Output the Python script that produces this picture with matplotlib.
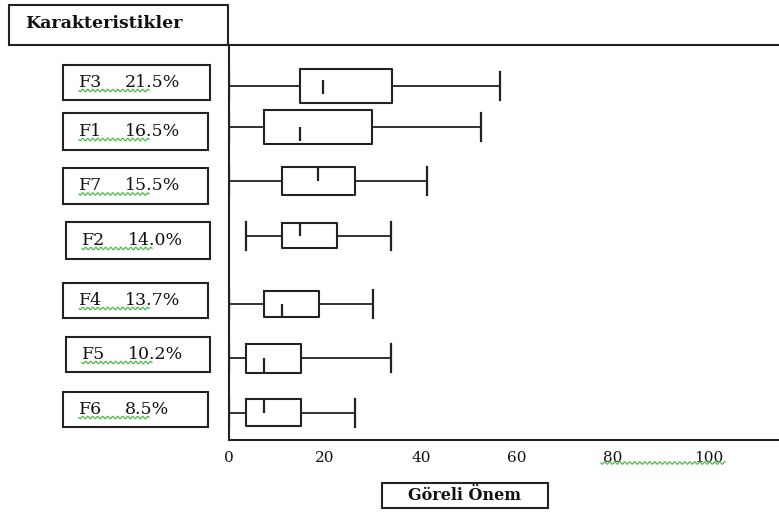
import numpy as np
import matplotlib
matplotlib.use("Agg")
import matplotlib.pyplot as plt
from matplotlib.patches import Rectangle
from matplotlib.lines import Line2D

# ---- data ----
factors = ["F3", "F1", "F7", "F2", "F4", "F5", "F6"]
shares = ["21.5%", "16.5%", "15.5%", "14.0%", "13.7%", "10.2%", "8.5%"]
whislo = [0.0, 0.0, 0.0, 3.5, 0.0, 0.0, 0.0]
q1 = [14.8, 7.2, 11.0, 11.0, 7.2, 3.5, 3.5]
med = [19.5, 14.8, 18.6, 14.8, 11.0, 7.2, 7.2]
q3 = [33.9, 29.7, 26.2, 22.4, 18.7, 14.9, 14.9]
whishi = [56.5, 52.6, 41.3, 33.8, 30.0, 33.8, 26.2]
xticks = [0, 20, 40, 60, 80, 100]

# ---- layout ----
rows = [0, 0.75, 1.75, 2.75, 4, 5, 6]
box_w = [0.62, 0.62, 0.52, 0.45, 0.48, 0.53, 0.5]
med_lo = [-0.10, 0.0, -0.26, -0.25, 0.0, 0.0, -0.26]
med_hi = [0.15, 0.26, 0.0, 0.0, 0.26, 0.26, 0.0]
# label boxes (pixel: x0, y0top, x1, y1bottom)
lab_boxes = [(63, 65, 210, 100), (63, 113, 208, 150), (63, 168, 208, 204),
             (66, 222, 210, 259), (63, 283, 208, 318), (66, 337, 210, 372),
             (63, 392, 208, 427)]

W, H = 779, 512
fig = plt.figure(figsize=(W / 100, H / 100), dpi=100)
serif = ["DejaVu Serif", "Liberation Serif"]


def fx(x):
    return x / W


def fy(y):
    return 1 - y / H


ax_l, ax_r, ax_t, ax_b = 229, 779, 45, 440
ax = fig.add_axes([fx(ax_l), fy(ax_b), (ax_r - ax_l) / W, (ax_b - ax_t) / H])

stats = []
for i in range(len(factors)):
    stats.append(dict(whislo=whislo[i], q1=q1[i], med=med[i], q3=q3[i],
                      whishi=whishi[i], fliers=[], label=factors[i]))

lw = 1.5
ax.bxp(stats, positions=rows, widths=box_w, vert=False, capwidths=0.52,
       showfliers=False,
       boxprops=dict(color="#222222", linewidth=lw),
       whiskerprops=dict(color="#222222", linewidth=1.3),
       capprops=dict(color="#222222", linewidth=1.6),
       medianprops=dict(linewidth=0, color="none"))

for i in range(len(factors)):
    ax.vlines(med[i], rows[i] + med_lo[i], rows[i] + med_hi[i],
              color="#222222", linewidth=1.6)

px_per_unit = 4.8
ax.set_xlim(0, (ax_r - ax_l) / px_per_unit)
ax.set_ylim(6.5, -0.75)
ax.set_yticks([])
ax.set_xticks(xticks)
ax.set_xticklabels([str(t) for t in xticks], fontfamily=serif, fontsize=11,
                   color="#111111")
ax.tick_params(axis="x", length=0, pad=8)
for s in ["top", "left", "bottom"]:
    ax.spines[s].set_linewidth(1.5)
    ax.spines[s].set_color("#222222")
ax.spines["right"].set_visible(False)


def squiggle(x0, x1, y, amp=1.2, period=5.0):
    xs = np.linspace(x0, x1, int((x1 - x0) * 2) + 2)
    ys = y + amp * np.sin(2 * np.pi * (xs - x0) / period)
    fig.add_artist(Line2D([fx(v) for v in xs], [fy(v) for v in ys],
                          color="#4CB84C", linewidth=0.9,
                          transform=fig.transFigure))


# header box
fig.add_artist(Rectangle((fx(9), fy(45)), (228 - 9) / W, (45 - 5) / H,
                         fill=False, edgecolor="#222222", linewidth=1.5,
                         transform=fig.transFigure))
fig.text(fx(25), fy(24), "Karakteristikler", fontfamily=serif,
         fontweight="bold", fontsize=12.5, va="center", ha="left",
         color="#111111")

# factor label boxes
for i, (x0, y0, x1, y1) in enumerate(lab_boxes):
    fig.add_artist(Rectangle((fx(x0), fy(y1)), (x1 - x0) / W, (y1 - y0) / H,
                             fill=False, edgecolor="#222222", linewidth=1.5,
                             transform=fig.transFigure))
    yc = (y0 + y1) / 2
    fig.text(fx(x0 + 16), fy(yc), factors[i], fontfamily=serif, fontsize=12.5,
             va="center", ha="left", color="#111111")
    fig.text(fx(x0 + 62), fy(yc), shares[i], fontfamily=serif, fontsize=12.5,
             va="center", ha="left", color="#111111")
    squiggle(x0 + 16, x0 + 86, yc + 8)

# squiggle under 80 .. 100 tick labels
squiggle(ax_l + 80 * px_per_unit - 12, ax_l + 100 * px_per_unit + 16, 463)

# x-label box
fig.add_artist(Rectangle((fx(382), fy(508)), (548 - 382) / W, (508 - 483) / H,
                         fill=False, edgecolor="#222222", linewidth=1.5,
                         transform=fig.transFigure))
fig.text(fx(465), fy(496), "Göreli Önem", fontfamily=serif, fontweight="bold",
         fontsize=11.5, va="center", ha="center", color="#111111")

fig.savefig("out.png", dpi=100)
